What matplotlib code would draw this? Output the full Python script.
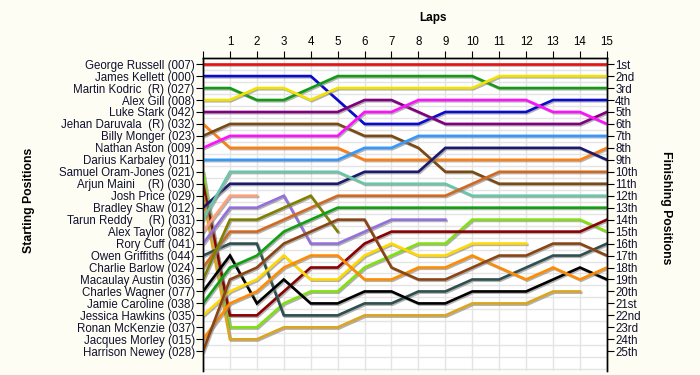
import matplotlib.pyplot as plt
import matplotlib.patheffects as pe

laps = list(range(16))

names = ["George Russell (007)", "James Kellett (000)", "Martin Kodric  (R) (027)",
         "Alex Gill (008)", "Luke Stark (042)", "Jehan Daruvala  (R) (032)",
         "Billy Monger (023)", "Nathan Aston (009)", "Darius Karbaley (011)",
         "Samuel Oram-Jones (021)", "Arjun Maini    (R) (030)", "Josh Price (029)",
         "Bradley Shaw (012)", "Tarun Reddy     (R) (031)", "Alex Taylor (082)",
         "Rory Cuff (041)", "Owen Griffiths (044)", "Charlie Barlow (024)",
         "Macaulay Austin (036)", "Charles Wagner (077)", "Jamie Caroline (038)",
         "Jessica Hawkins (035)", "Ronan McKenzie (037)", "Jacques Morley (015)",
         "Harrison Newey (028)"]

finish_labels = ["1st", "2nd", "3rd", "4th", "5th", "6th", "7th", "8th", "9th", "10th",
                 "11th", "12th", "13th", "14th", "15th", "16th", "17th", "18th", "19th",
                 "20th", "21st", "22nd", "23rd", "24th", "25th"]

# position after each lap (lap 0 = grid)
russell = [1, 1, 1, 1, 1, 1, 1, 1, 1, 1, 1, 1, 1, 1, 1, 1]
kellett = [2, 2, 2, 2, 2, 4, 6, 6, 6, 5, 5, 5, 5, 4, 4, 4]
kodric = [3, 3, 4, 4, 3, 2, 2, 2, 2, 2, 2, 3, 3, 3, 3, 3]
gill = [4, 4, 3, 3, 4, 3, 3, 3, 3, 3, 3, 2, 2, 2, 2, 2]
stark = [5, 5, 5, 5, 5, 5, 4, 4, 5, 6, 6, 6, 6, 6, 6, 5]
daruvala = [6, 8, 8, 8, 8, 8, 9, 9, 9, 9, 9, 9, 9, 9, 9, 8]
monger = [7, 6, 6, 6, 6, 6, 7, 7, 8, 10, 10, 11, 11, 11, 11, 11]
aston = [8, 7, 7, 7, 7, 7, 5, 5, 4, 4, 4, 4, 4, 5, 5, 6]
karbaley = [9, 9, 9, 9, 9, 9, 8, 8, 7, 7, 7, 7, 7, 7, 7, 7]
oram_jones = [10, 23, 23, 21, 20, 20, 18, 17, 16, 16, 14, 14, 14, 14, 14, 15]
maini = [11, 22, 22, 20, 18, 18, 16, 15, 15, 15, 15, 15, 15, 15, 15, 14]
price = [12, 24, 24, 23, 23, 23, 22, 22, 22, 22, 21, 21, 21, 20, 20]
shaw = [13, 11, 11, 11, 11, 11, 10, 10, 10, 8, 8, 8, 8, 8, 8, 9]
reddy = [14, 10, 10, 10, 10, 10, 11, 11, 11, 11, 12, 12, 12, 12, 12, 12]
taylor = [15, 12, 12]
cuff = [16, 13, 13, 12, 16, 16, 15, 14, 14, 14]
griffiths = [17, 16, 16, 22, 22, 22, 21, 21, 20, 20, 19, 19, 18, 17, 17, 16]
barlow = [18, 15, 15, 14, 13, 12, 12, 12, 12, 12, 11, 10, 10, 10, 10, 10]
austin = [19, 14, 14, 13, 12, 15]
wagner = [20, 17, 21, 19, 21, 21, 20, 20, 21, 21, 20, 20, 20, 19, 18, 19]
caroline = [21, 18, 17, 15, 14, 13, 13, 13, 13, 13, 13, 13, 13, 13, 13, 13]
hawkins = [22, 20, 19, 17, 19, 19, 17, 16, 17, 17, 16, 16, 16]
mckenzie = [23]
morley = [24, 21, 20, 18, 17, 17, 19, 19, 18, 18, 17, 18, 19, 18, 19, 18]
newey = [25, 19, 18, 16, 15, 14, 14, 18, 19, 19, 18, 17, 17, 16, 16, 17]

series = [russell, kellett, kodric, gill, stark, daruvala, monger, aston, karbaley,
          oram_jones, maini, price, shaw, reddy, taylor, cuff, griffiths, barlow,
          austin, wagner, caroline, hawkins, mckenzie, morley, newey]

colors = ["#e81010", "#0a0ad0", "#159a15", "#f2e200", "#800080", "#ff8010",
          "#7a4a12", "#ff10ff", "#3399ff", "#80e010", "#8b0000", "#daa520",
          "#1a1a6e", "#66c8a8", "#ffa07a", "#9370db", "#2f4f4f", "#d2691e",
          "#808000", "#000000", "#10a010", "#ffd800", "#999999", "#ff8c00",
          "#8b4513"]

fig = plt.figure(figsize=(7, 3.75), dpi=100, facecolor="#fdfdf3")
ax = fig.add_axes([0.29, 0.01, 0.577, 0.835])
ax.set_facecolor("white")

shadow = [pe.SimpleLineShadow(offset=(0.9, -0.9), shadow_color="#808080", alpha=0.6),
          pe.Normal()]
for pos, c in zip(series, colors):
    ax.plot(laps[:len(pos)], pos, color=c, lw=1.9, solid_joinstyle="miter",
            path_effects=shadow, zorder=3)

ax.set_xlim(0, 15)
ax.set_ylim(26.67, 0.5)

ax.set_xticks(laps)
ax.set_xticklabels([""] + [str(i) for i in laps[1:]], fontsize=8.3, family="Liberation Sans")
ax.xaxis.tick_top()
ax.tick_params(axis="x", length=5, pad=2, color="black")

ax.set_yticks(range(1, 26))
ax.set_yticklabels(names, fontsize=8.3, family="Liberation Sans", color="#101030")
ax.tick_params(axis="y", length=5, pad=1, color="black")

ax2 = ax.twinx()
ax2.set_ylim(26.67, 0.5)
ax2.set_yticks(range(1, 26))
ax2.set_yticklabels(finish_labels, fontsize=8.3, family="Liberation Sans", color="#101030")
ax2.tick_params(axis="y", length=5, pad=1, color="black")

ax.set_yticks([i + 0.5 for i in range(0, 27)], minor=True)
ax.tick_params(axis="y", which="minor", length=0)
ax.grid(True, which="minor", axis="y", color="#e4e4e4", lw=1)
ax.grid(True, which="major", axis="x", color="#e4e4e4", lw=1)
ax.set_axisbelow(True)

for a in (ax, ax2):
    a.spines["bottom"].set_visible(False)
    for s in ("left", "right", "top"):
        a.spines[s].set_color("black")
        a.spines[s].set_linewidth(1)

fig.text(0.619, 0.952, "Laps", ha="center", va="center", fontsize=8.5,
         fontweight="bold", family="Liberation Sans")
fig.text(0.041, 0.465, "Starting Positions", ha="center", va="center", rotation=90,
         fontsize=8.8, fontweight="bold", family="Liberation Sans")
fig.text(0.951, 0.447, "Finishing Positions", ha="center", va="center", rotation=270,
         fontsize=8.8, fontweight="bold", family="Liberation Sans")

fig.savefig("out.png", dpi=100, facecolor=fig.get_facecolor())
